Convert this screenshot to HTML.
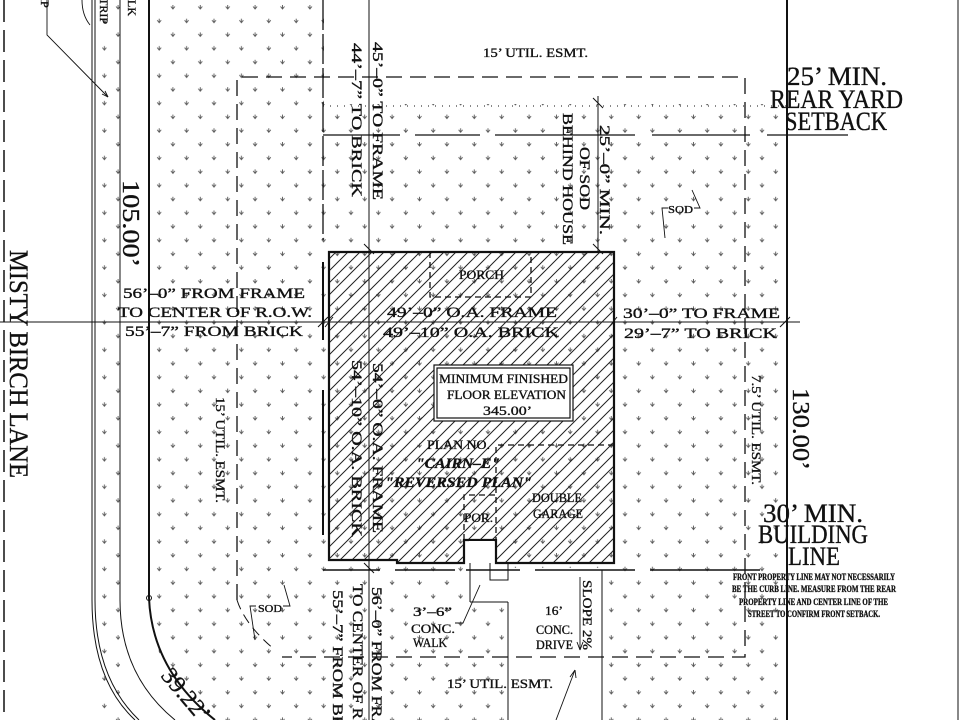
<!DOCTYPE html>
<html><head><meta charset="utf-8"><style>
html,body{margin:0;padding:0;background:#fff;width:960px;height:720px;overflow:hidden}
svg{display:block}
text{font-family:"Liberation Serif",serif;fill:#111;stroke:#111;stroke-width:0.35}
</style></head><body>
<svg width="960" height="720" viewBox="0 0 960 720" xmlns="http://www.w3.org/2000/svg" style="overflow:hidden">
<defs>
<pattern id="sod" patternUnits="userSpaceOnUse" width="27.4" height="27.4" x="2" y="3">
<path d="M4.5,3.5 L6.5,6 L8.5,3.5 M6.5,2 L6.5,6 M18.2,17.2 L20.2,19.7 L22.2,17.2 M20.2,15.7 L20.2,19.7" stroke="#555" stroke-width="0.9" fill="none"/>
</pattern>
<pattern id="hatch" patternUnits="userSpaceOnUse" width="12" height="12">
<path d="M0,12 L12,0 M-3,3 L3,-3 M9,15 L15,9" stroke="#222" stroke-width="1"/>
</pattern>
<clipPath id="frame"><rect x="0" y="0" width="960" height="720"/></clipPath>
</defs>
<g clip-path="url(#frame)">
<!-- sod areas -->
<rect x="96" y="0" width="24" height="720" fill="url(#sod)"/>
<rect x="150" y="0" width="636" height="720" fill="url(#sod)"/>
<rect x="324" y="0" width="462" height="104" fill="#fff"/>
<rect x="470" y="540" width="38" height="62" fill="#fff"/>
<rect x="508" y="568" width="94" height="152" fill="#fff"/>
<path d="M150,600 Q150,680 220,720 L150,720 Z" fill="#fff"/>

<g stroke="#111" fill="none">
<line x1="4" y1="0" x2="4" y2="720" stroke-width="1.5" stroke-dasharray="22,8"/>
<path d="M92,0 L92,600 Q92,680 135,720" stroke-width="1"/>
<path d="M95,0 L95,600 Q95,678 139,720" stroke-width="1"/>
<path d="M120,0 L120,600 Q120,675 175,720" stroke-width="1"/>
<path d="M149,0 L149,598 Q152,670 215,720" stroke-width="2"/>
<circle cx="149" cy="598" r="2.5" stroke-width="1"/>
<line x1="787" y1="0" x2="787" y2="720" stroke-width="2"/>
<line x1="958" y1="0" x2="958" y2="720" stroke-width="1"/>
<path d="M237,600 L237,77 L745,77 L745,657 L282,657" stroke-width="1.3" stroke-dasharray="16,8"/>
<path d="M237,600 Q245,625 275,650" stroke-width="1" stroke-dasharray="10,6"/>
<line x1="323" y1="106" x2="787" y2="106" stroke-width="1" stroke-dasharray="1,6"/>
<path d="M323,135 L400,135 M415,135 L480,135 M495,135 L635,135 M652,135 L750,135 M767,135 L848,135" stroke-width="1.3"/>
<line x1="323" y1="0" x2="323" y2="240" stroke-width="1.3" stroke-dasharray="30,4"/>
<line x1="323" y1="262" x2="323" y2="340" stroke-width="2"/>
<line x1="323" y1="390" x2="323" y2="535" stroke-width="2"/>
<path d="M323,570 L380,570 M395,570 L455,570 M466,570 L520,570 M535,570 L635,570 M650,570 L760,570" stroke-width="1.5"/>
<line x1="0" y1="322" x2="800" y2="322" stroke-width="1"/>
<line x1="369" y1="0" x2="369" y2="720" stroke-width="1"/>
<line x1="598" y1="96" x2="598" y2="252" stroke-width="1"/>
<line x1="602" y1="570" x2="602" y2="720" stroke-width="1"/>
<line x1="508" y1="602" x2="508" y2="720" stroke-width="1"/>
<line x1="470" y1="563" x2="470" y2="602" stroke-width="1"/>
<line x1="470" y1="602" x2="508" y2="602" stroke-width="1"/>
<path d="M364,244 L374,254 M593,244 L603,254 M593,98 L603,108 M325,327 L333,317 M609,327 L617,317 M780,327 L790,317 M364,563 L374,573 M318,327 L328,317" stroke-width="1"/>
</g>

<path d="M329,252 L614,252 L614,563 L496,563 L496,540 L464,540 L464,563 L397,563 L397,560 L329,560 Z" fill="url(#hatch)" stroke="#111" stroke-width="2.2"/>
<rect x="469" y="541" width="25" height="22" fill="#fff"/>
<path d="M490,563 L490,580 L508,580 L508,563" fill="none" stroke="#111" stroke-width="1"/>
<g stroke="#111" stroke-width="1.3" fill="none" stroke-dasharray="6,4">
<path d="M430,252 L430,297 L531,297 L531,252"/>
<path d="M614,445 L496,445 L496,563"/>
<path d="M464,540 L464,495 L496,495"/>
</g>
<rect x="434" y="365" width="139" height="56" fill="#fff" stroke="#111" stroke-width="1.2"/>
<rect x="437" y="368" width="133" height="50" fill="#fff" stroke="#111" stroke-width="1.2"/>

<g stroke="#111" stroke-width="0.9" fill="none">
<path d="M47,0 L47,35 L108,97"/><path d="M108,97 L102,94 M108,97 L105,91"/>
<path d="M82,0 Q82,15 90,25"/>
<path d="M283,606 L290,606 L284,585"/><path d="M256,606 L250,606 L255,640"/>
<path d="M694,208 L700,208 L692,190"/><path d="M668,208 L662,208 L665,238"/>
<path d="M455,623 L463,623 L480,585"/>
<path d="M556,720 L575,670"/><path d="M575,670 L570,677 M575,670 L576,678"/>
<line x1="580" y1="577" x2="580" y2="650"/><path d="M580,650 L577,642 M580,650 L583,642"/>
</g>

<g font-size="15">
<text x="483" y="57" font-size="13" textLength="105" lengthAdjust="spacingAndGlyphs">15’ UTIL. ESMT.</text>
<text x="123" y="298" textLength="182" lengthAdjust="spacingAndGlyphs">56’–0” FROM FRAME</text>
<text x="118" y="317" textLength="194" lengthAdjust="spacingAndGlyphs">TO CENTER OF R.O.W.</text>
<text x="125" y="336" textLength="178" lengthAdjust="spacingAndGlyphs">55’–7” FROM BRICK</text>
<text x="387" y="317" textLength="170" lengthAdjust="spacingAndGlyphs">49’–0” O.A. FRAME</text>
<text x="383" y="337" textLength="176" lengthAdjust="spacingAndGlyphs">49’–10” O.A. BRICK</text>
<text x="623" y="318" textLength="157" lengthAdjust="spacingAndGlyphs">30’–0” TO FRAME</text>
<text x="624" y="338" textLength="153" lengthAdjust="spacingAndGlyphs">29’–7” TO BRICK</text>
</g>
<g font-size="13">
<text x="459" y="279" textLength="45" lengthAdjust="spacingAndGlyphs">PORCH</text>
<text x="439" y="383" textLength="129" lengthAdjust="spacingAndGlyphs">MINIMUM FINISHED</text>
<text x="447" y="399" textLength="119" lengthAdjust="spacingAndGlyphs">FLOOR ELEVATION</text>
<text x="483" y="415" textLength="49" lengthAdjust="spacingAndGlyphs">345.00’</text>
<text x="427" y="449" textLength="63" lengthAdjust="spacingAndGlyphs">PLAN NO.</text>
<text x="416" y="468" font-size="15" font-weight="bold" font-style="italic" textLength="84" lengthAdjust="spacingAndGlyphs">"CAIRN–E"</text>
<text x="385" y="487" font-size="15" font-weight="bold" font-style="italic" textLength="147" lengthAdjust="spacingAndGlyphs">"REVERSED PLAN"</text>
<text x="532" y="502" textLength="50" lengthAdjust="spacingAndGlyphs">DOUBLE</text>
<text x="533" y="518" textLength="50" lengthAdjust="spacingAndGlyphs">GARAGE</text>
<text x="464" y="522" textLength="29" lengthAdjust="spacingAndGlyphs">POR.</text>
<text x="413" y="616" textLength="39" lengthAdjust="spacingAndGlyphs">3’–6”</text>
<text x="411" y="633" textLength="44" lengthAdjust="spacingAndGlyphs">CONC.</text>
<text x="413" y="647" textLength="34" lengthAdjust="spacingAndGlyphs">WALK</text>
<text x="545" y="615" textLength="18" lengthAdjust="spacingAndGlyphs">16’</text>
<text x="536" y="634" textLength="37" lengthAdjust="spacingAndGlyphs">CONC.</text>
<text x="536" y="649" textLength="37" lengthAdjust="spacingAndGlyphs">DRIVE</text>
<text x="447" y="688" textLength="106" lengthAdjust="spacingAndGlyphs">15’ UTIL. ESMT.</text>
<text x="258" y="612" font-size="11" textLength="24" lengthAdjust="spacingAndGlyphs">SOD</text>
<text x="668" y="213" font-size="11" textLength="25" lengthAdjust="spacingAndGlyphs">SOD</text>
</g>
<g font-size="26">
<text x="787" y="85" textLength="100" lengthAdjust="spacingAndGlyphs">25’ MIN.</text>
<text x="770" y="108" textLength="133" lengthAdjust="spacingAndGlyphs">REAR YARD</text>
<text x="785" y="130" textLength="102" lengthAdjust="spacingAndGlyphs">SETBACK</text>
<text x="763" y="522" textLength="100" lengthAdjust="spacingAndGlyphs">30’ MIN.</text>
<text x="758" y="543" textLength="110" lengthAdjust="spacingAndGlyphs">BUILDING</text>
<text x="788" y="565" textLength="52" lengthAdjust="spacingAndGlyphs">LINE</text>
</g>
<g font-size="9" font-weight="bold">
<text x="733" y="580" textLength="162" lengthAdjust="spacingAndGlyphs">FRONT PROPERTY LINE MAY NOT NECESSARILY</text>
<text x="732" y="592" textLength="164" lengthAdjust="spacingAndGlyphs">BE THE CURB LINE. MEASURE FROM THE REAR</text>
<text x="739" y="605" textLength="149" lengthAdjust="spacingAndGlyphs">PROPERTY LINE AND CENTER LINE OF THE</text>
<text x="748" y="617" textLength="132" lengthAdjust="spacingAndGlyphs">STREET TO CONFIRM FRONT SETBACK.</text>
</g>

<g font-size="15">
<text transform="translate(10,250) rotate(90)" font-size="26" textLength="228" lengthAdjust="spacingAndGlyphs">MISTY BIRCH LANE</text>
<text transform="translate(123,180) rotate(90)" font-size="24" textLength="87" lengthAdjust="spacingAndGlyphs">105.00’</text>
<text transform="translate(793,388) rotate(90)" font-size="24" textLength="82" lengthAdjust="spacingAndGlyphs">130.00’</text>
<text transform="translate(373,42) rotate(90)" textLength="158" lengthAdjust="spacingAndGlyphs">45’–0” TO FRAME</text>
<text transform="translate(352,43) rotate(90)" textLength="154" lengthAdjust="spacingAndGlyphs">44’–7” TO BRICK</text>
<text transform="translate(600,125) rotate(90)" textLength="110" lengthAdjust="spacingAndGlyphs">25’–0” MIN.</text>
<text transform="translate(580,147) rotate(90)" textLength="63" lengthAdjust="spacingAndGlyphs">OF SOD</text>
<text transform="translate(563,113) rotate(90)" textLength="132" lengthAdjust="spacingAndGlyphs">BEHIND HOUSE</text>
<text transform="translate(373,363) rotate(90)" textLength="170" lengthAdjust="spacingAndGlyphs">54’–0” O.A. FRAME</text>
<text transform="translate(352,360) rotate(90)" textLength="177" lengthAdjust="spacingAndGlyphs">54’–10” O.A. BRICK</text>
<text transform="translate(216,397) rotate(90)" font-size="13" textLength="106" lengthAdjust="spacingAndGlyphs">15’ UTIL. ESMT.</text>
<text transform="translate(752,375) rotate(90)" font-size="13" textLength="110" lengthAdjust="spacingAndGlyphs">7.5’ UTIL. ESMT.</text>
<text transform="translate(372,587) rotate(90)" textLength="170" lengthAdjust="spacingAndGlyphs">56’–0” FROM FRAME</text>
<text transform="translate(353,584) rotate(90)" textLength="175" lengthAdjust="spacingAndGlyphs">TO CENTER OF R.O.W.</text>
<text transform="translate(333,590) rotate(90)" textLength="170" lengthAdjust="spacingAndGlyphs">55’–7” FROM BRICK</text>
<text transform="translate(583,580) rotate(90)" font-size="13" textLength="70" lengthAdjust="spacingAndGlyphs">SLOPE 2%</text>
<text transform="translate(128,0) rotate(90)" font-size="12">LK</text>
<text transform="translate(100,-2) rotate(90)" font-size="12">TRIP</text>
<text transform="translate(41,-3) rotate(90)" font-size="12">IP</text>
<text transform="translate(160,676) rotate(50)" font-size="24">39.22’</text>
</g>
</g>
</svg>
</body></html>
